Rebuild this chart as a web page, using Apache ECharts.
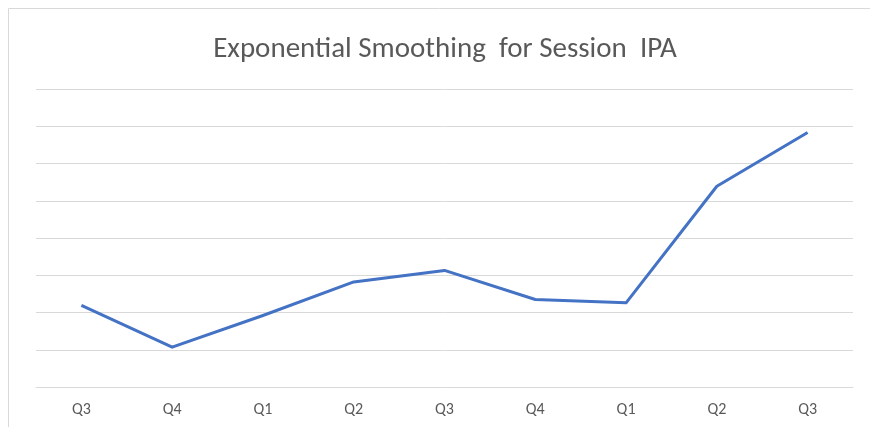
<!DOCTYPE html>
<html>
<head>
<meta charset="utf-8">
<script src="https://cdn.jsdelivr.net/npm/echarts@6/dist/echarts.min.js"></script>
<style>
  html, body { margin: 0; padding: 0; background: #ffffff; }
  #chart { width: 870px; height: 427px; }
</style>
</head>
<body>
<div id="chart"></div>
<script>
// Quarter labels along the horizontal axis
const quarters = ['Q3', 'Q4', 'Q1', 'Q2', 'Q3', 'Q4', 'Q1', 'Q2', 'Q3'];
// Smoothed values for each quarter
const smoothed = [2.19, 1.07, 1.92, 2.82, 3.13, 2.35, 2.26, 5.39, 6.83];
// Value axis range (labels hidden, gridlines only)
const yMin = 0;
const yMax = 8;
const yStep = 1;

const chart = echarts.init(document.getElementById('chart'), null, { renderer: 'canvas' });

const fontFamily = 'Carlito, Lato, "Open Sans", sans-serif';

chart.setOption({
  animation: false,
  backgroundColor: '#ffffff',
  title: {
    text: 'Exponential Smoothing  for Session  IPA',
    left: 440,
    top: 30,
    textAlign: 'center',
    textStyle: {
      fontFamily: fontFamily,
      fontSize: 29,
      fontWeight: 'normal',
      color: '#595959'
    }
  },
  graphic: [{
    type: 'rect',
    shape: { x: 8.5, y: 8.5, width: 900, height: 500 },
    style: { fill: 'none', stroke: '#d9d9d9', lineWidth: 1 },
    silent: true
  }],
  grid: { left: 36, right: 17, top: 89, bottom: 40 },
  xAxis: {
    type: 'category',
    data: quarters,
    boundaryGap: true,
    axisLine: { show: true, lineStyle: { color: '#d9d9d9', width: 1 } },
    axisTick: { show: false },
    axisLabel: {
      margin: 15,
      fontFamily: fontFamily,
      fontSize: 16,
      color: '#595959'
    }
  },
  yAxis: {
    type: 'value',
    min: yMin,
    max: yMax,
    interval: yStep,
    axisLabel: { show: false },
    axisLine: { show: false },
    axisTick: { show: false },
    splitLine: { lineStyle: { color: '#d9d9d9', width: 1 } }
  },
  series: [{
    type: 'line',
    data: smoothed,
    symbol: 'none',
    lineStyle: { color: '#4472C4', width: 3, join: 'round' }
  }]
});
</script>
</body>
</html>
